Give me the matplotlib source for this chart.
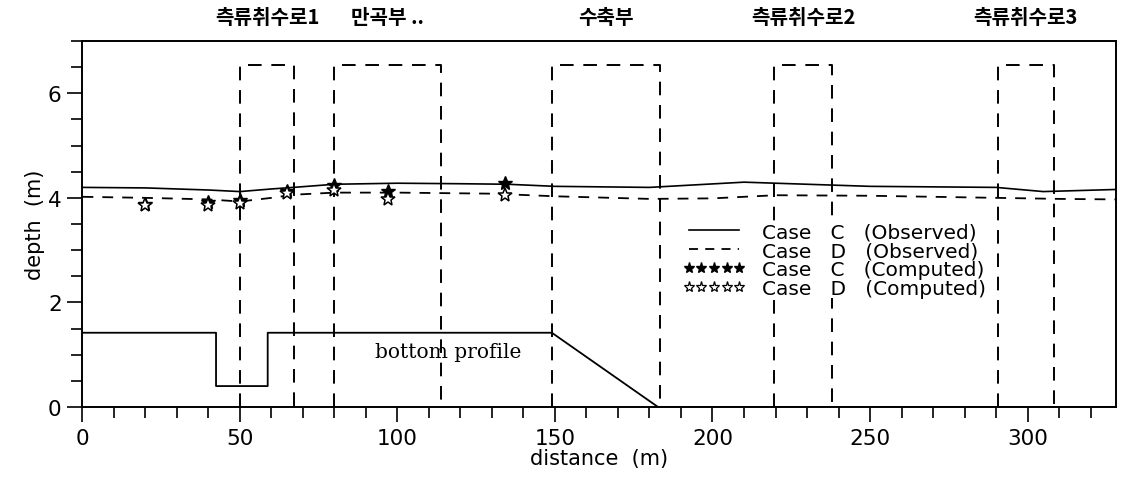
import matplotlib.pyplot as plt
from matplotlib.lines import Line2D
from matplotlib.ticker import MultipleLocator

# observed water surface
obs_x_c = [0, 20, 40, 50, 60, 67, 80, 100, 120, 135, 150, 180, 195, 210, 225, 250, 290, 305, 328]
obs_c = [4.2, 4.19, 4.15, 4.12, 4.17, 4.2, 4.26, 4.28, 4.27, 4.26, 4.22, 4.2, 4.25, 4.3, 4.27, 4.22, 4.2, 4.12, 4.16]
obs_x_d = [0, 20, 40, 50, 60, 67, 80, 100, 130, 150, 180, 200, 220, 250, 290, 310, 328]
obs_d = [4.02, 4.0, 3.97, 3.93, 4.0, 4.06, 4.1, 4.1, 4.08, 4.03, 3.98, 3.99, 4.05, 4.04, 4.0, 3.98, 3.97]

# computed points
comp_x = [20, 40, 50, 65, 80, 97, 134]
comp_c = [3.88, 3.93, 3.96, 4.13, 4.24, 4.14, 4.28]
comp_d = [3.86, 3.86, 3.90, 4.09, 4.15, 3.98, 4.06]

# bottom profile
bot_x = [0, 42.4, 42.4, 58.8, 58.8, 149, 182.7, 328]
bot_y = [1.42, 1.42, 0.4, 0.4, 1.42, 1.42, 0.0, 0.0]

# sections (start, end) and their names
sec_start = [50, 80, 149, 219.5, 290.5]
sec_end = [67.2, 113.8, 183.3, 238, 308.4]
sec_top = 6.55
sec_names = ['측류취수로1', '만곡부 ..', '수축부', '측류취수로2', '측류취수로3']

fig = plt.figure(figsize=(11.22, 4.85), dpi=100)
ax = fig.add_axes([0.0735, 0.1588, 0.9209, 0.7546])

for x1, x2 in zip(sec_start, sec_end):
    ax.plot([x1, x1, x2, x2], [0, sec_top, sec_top, 0], color='k', lw=1.4,
            linestyle=(0, (7, 5)))

ax.plot(bot_x, bot_y, color='k', lw=1.3)
ax.text(93, 1.06, 'bottom profile', family='DejaVu Serif', fontsize=14.5, va='center')

ax.plot(obs_x_c, obs_c, color='k', lw=1.2)
ax.plot(obs_x_d, obs_d, color='k', lw=1.3, linestyle=(0, (6, 5)))
ax.plot(comp_x, comp_c, '*', color='k', ms=10, ls='none')
ax.plot(comp_x, comp_d, '*', mfc='white', mec='k', mew=1.1, ms=10, ls='none')

# section labels above the axes
for x1, x2, name in zip(sec_start, sec_end, sec_names):
    ax.text((x1 + x2) / 2, 7.47, name, ha='center', va='center', fontsize=14.5,
            family=['Noto Sans CJK KR', 'DejaVu Sans'], fontweight='bold', clip_on=False)

handles = [
    Line2D([], [], color='k', lw=1.2),
    Line2D([], [], color='k', lw=1.3, linestyle=(0, (5, 4))),
    Line2D([], [], color='k', marker='*', ls='none', ms=8),
    Line2D([], [], color='k', marker='*', mfc='white', mew=0.9, ls='none', ms=8),
]
labels = ['Case   C   (Observed)', 'Case   D   (Observed)',
          'Case   C   (Computed)', 'Case   D   (Computed)']
leg = ax.legend(handles, labels, loc='upper left', bbox_to_anchor=(0.581, 0.505),
                frameon=True, facecolor='white', edgecolor='none', framealpha=1,
                fancybox=False, numpoints=5, handlelength=3.1, handletextpad=0.85,
                labelspacing=0.0, borderpad=0, borderaxespad=0, fontsize=14.5)

ax.set_xlim(0, 328)
ax.set_ylim(0, 7)
ax.xaxis.set_major_locator(MultipleLocator(50))
ax.xaxis.set_minor_locator(MultipleLocator(10))
ax.yaxis.set_major_locator(MultipleLocator(2))
ax.yaxis.set_minor_locator(MultipleLocator(0.5))
ax.tick_params(which='major', direction='out', length=11, width=1.2, labelsize=15.5, pad=4)
ax.tick_params(which='minor', direction='out', length=8, width=1.2)
for s in ax.spines.values():
    s.set_linewidth(1.4)

ax.set_xlabel('distance  (m)', fontsize=15, labelpad=0)
ax.set_ylabel('depth  (m)', fontsize=15, labelpad=2)

fig.savefig('out.png', dpi=100)
